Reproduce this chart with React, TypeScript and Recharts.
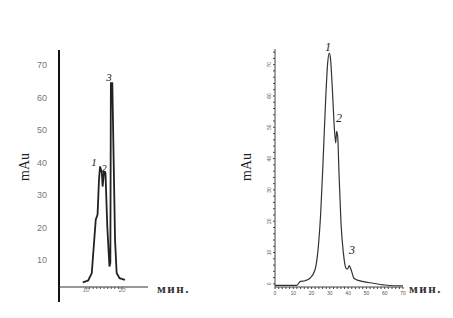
import React from 'react';
import { LineChart, Line, XAxis, YAxis, ReferenceLine, ReferenceDot } from 'recharts';

// Left chromatogram
const leftTime = [9.1, 10.6, 11.6, 12.0, 12.7, 13.2, 13.6, 13.9, 14.4, 14.6, 15.0, 15.4, 15.9, 16.5, 16.75, 16.9, 17.3, 18.05, 18.5, 19.3, 20.8];
const leftSignal = [3.1, 3.7, 6, 12, 22.4, 24, 34.7, 38.8, 36.8, 32.6, 37.2, 36.8, 20.3, 8, 9.1, 64.4, 64.4, 16.2, 6, 4.4, 3.9];
const leftYTicks = [10, 20, 30, 40, 50, 60, 70];
const leftXTicks = [10, 11, 12, 13, 14, 15, 16, 17, 18, 19, 20];
const leftXLabels = [10, 20];
const leftPeakLabels = ['1', '2', '3'];
const leftPeakTime = [12.2, 15.0, 16.4];
const leftPeakSignal = [40.2, 38.4, 66.4];

// Right chromatogram
const rightTime = [0, 6, 11.8, 13.7, 16.4, 19.1, 21.9, 23.7, 25.0, 26.4, 27.7, 28.8, 29.7, 30.4, 31.3, 32.4, 33.2, 33.7, 34.3, 35.0, 36.1, 37.4, 38.8, 39.7, 40.6, 41.6, 43.2, 45.6, 48.3, 53.7, 59.2, 64.7, 70];
const rightSignal = [-0.5, -0.5, -0.5, 0.7, 1, 1.8, 4.5, 11.9, 22.7, 40.7, 58.8, 70.5, 73.7, 71.6, 63, 50.3, 45, 48.7, 47, 35.4, 19.4, 9.8, 5, 4.7, 5.8, 4.5, 1.8, 1.1, 0.7, 0.2, -0.3, -0.6, -0.6];
const rightYTicks = [0, 2, 4, 6, 8, 10, 12, 14, 16, 18, 20, 22, 24, 26, 28, 30, 32, 34, 36, 38, 40, 42, 44, 46, 48, 50, 52, 54, 56, 58, 60, 62, 64, 66, 68, 70, 72, 74];
const rightXTicks = [0, 2, 4, 6, 8, 10, 12, 14, 16, 18, 20, 22, 24, 26, 28, 30, 32, 34, 36, 38, 40, 42, 44, 46, 48, 50, 52, 54, 56, 58, 60, 62, 64, 66, 68, 70];
const rightPeakLabels = ['1', '2', '3'];
const rightPeakTime = [29.0, 35.0, 42.1];
const rightPeakSignal = [75.7, 53.0, 10.8];

const yLabel = 'mAu';
const xLabel = 'мин.';

const leftData = leftTime.map((t, i) => ({ t, v: leftSignal[i] }));
const rightData = rightTime.map((t, i) => ({ t, v: rightSignal[i] }));

const serif = '"Liberation Serif", "Times New Roman", "DejaVu Serif", serif';
const sans = '"Liberation Sans", Arial, sans-serif';

const peakShape = (label: string, size: number) => (p: any) => (
  <text x={p.cx} y={p.cy} textAnchor="middle" dominantBaseline="central" fontFamily={serif} fontStyle="italic" fontSize={size} fill="#222">{label}</text>
);

const LeftXTick = (p: any) => {
  if (!leftXLabels.includes(p.payload.value)) return <g />;
  return <text x={p.x} y={p.y + 2} textAnchor="middle" fontFamily={sans} fontStyle="italic" fontSize={6} fill="#777">{p.payload.value}</text>;
};

const RightXTick = (p: any) => {
  if (p.payload.value % 10 !== 0) return <g />;
  return <text x={p.x} y={p.y + 5} textAnchor="middle" fontFamily={sans} fontSize={5} fill="#555">{p.payload.value}</text>;
};

const RightYTick = (p: any) => {
  if (p.payload.value % 10 !== 0) return <g />;
  return <text x={p.x} y={p.y} textAnchor="middle" transform={`rotate(-90 ${p.x} ${p.y})`} fontFamily={sans} fontSize={5} fill="#555">{p.payload.value}</text>;
};

export default function App() {
  return (
    <div style={{ position: 'relative', width: 453, height: 318, margin: -8, background: '#fff', overflow: 'hidden' }}>
      <div style={{ position: 'absolute', left: 0, top: 0 }}>
        <LineChart width={226} height={318} data={leftData} margin={{ top: 50, right: 78, bottom: 11, left: 29 }}>
          <XAxis dataKey="t" type="number" domain={[2.5, 27.2]} ticks={leftXTicks} height={20}
            axisLine={{ stroke: '#333', strokeWidth: 1 }} tickLine={{ stroke: '#555' }} tickSize={2} tickMargin={1}
            tick={LeftXTick} interval={0} allowDataOverflow />
          <YAxis type="number" domain={[1.7, 74.6]} ticks={leftYTicks} width={30} axisLine={false} tickLine={false}
            tickSize={6} tickMargin={6} interval={0} allowDataOverflow
            tick={{ fontSize: 9, fill: '#777', fontFamily: sans }} />
          <ReferenceLine segment={[{ x: 2.5, y: -2.9 }, { x: 2.5, y: 74.6 }]} ifOverflow="visible" stroke="#111" strokeWidth={2} />
          <Line type="linear" dataKey="v" stroke="#222" strokeWidth={1.8} dot={false} isAnimationActive={false} />
          {leftPeakLabels.map((l, i) => (
            <ReferenceDot key={l} x={leftPeakTime[i]} y={leftPeakSignal[i]} r={0} ifOverflow="visible" shape={peakShape(l, 11)} />
          ))}
        </LineChart>
      </div>
      <div style={{ position: 'absolute', left: 226, top: 0 }}>
        <LineChart width={227} height={318} data={rightData} margin={{ top: 49, right: 50, bottom: 11, left: 19 }}>
          <XAxis dataKey="t" type="number" domain={[0, 70]} ticks={rightXTicks} height={20}
            axisLine={{ stroke: '#444', strokeWidth: 1 }} tickLine={{ stroke: '#444' }} tickSize={2} tickMargin={1}
            tick={RightXTick} interval={0} />
          <YAxis type="number" domain={[-1, 75]} ticks={rightYTicks} width={30}
            axisLine={{ stroke: '#444', strokeWidth: 1 }} tickLine={{ stroke: '#444' }} tickSize={2} tickMargin={2}
            tick={RightYTick} interval={0} />
          <Line type="monotone" dataKey="v" stroke="#333" strokeWidth={1.2} dot={false} isAnimationActive={false} />
          {rightPeakLabels.map((l, i) => (
            <ReferenceDot key={l} x={rightPeakTime[i]} y={rightPeakSignal[i]} r={0} ifOverflow="visible" shape={peakShape(l, 12)} />
          ))}
        </LineChart>
      </div>
      <div style={{ position: 'absolute', left: 25, top: 167, transform: 'translate(-50%, -50%) rotate(-90deg)', fontFamily: serif, fontSize: 14, color: '#222', whiteSpace: 'nowrap' }}>{yLabel}</div>
      <div style={{ position: 'absolute', left: 247, top: 167, transform: 'translate(-50%, -50%) rotate(-90deg)', fontFamily: serif, fontSize: 14, color: '#222', whiteSpace: 'nowrap' }}>{yLabel}</div>
      <div style={{ position: 'absolute', left: 157, top: 281, fontFamily: serif, fontSize: 13, letterSpacing: 1.5, fontWeight: 'bold', color: '#333', whiteSpace: 'nowrap', lineHeight: '16px' }}>{xLabel}</div>
      <div style={{ position: 'absolute', left: 409, top: 281, fontFamily: serif, fontSize: 13, letterSpacing: 1.5, fontWeight: 'bold', color: '#333', whiteSpace: 'nowrap', lineHeight: '16px' }}>{xLabel}</div>
    </div>
  );
}
